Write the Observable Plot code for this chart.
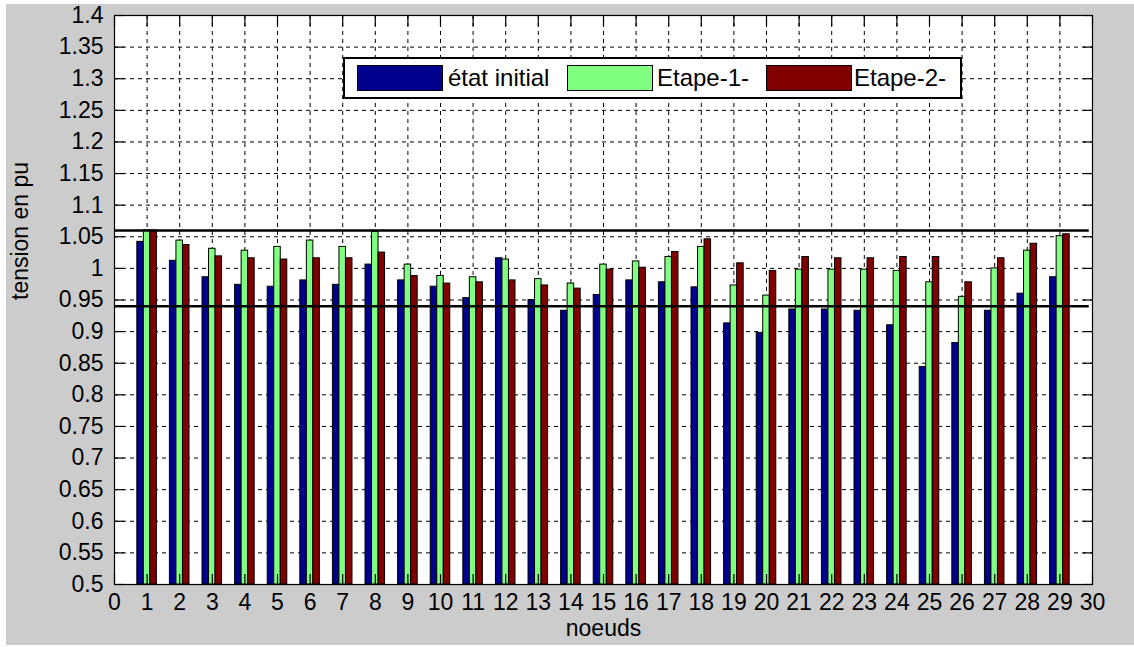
<!DOCTYPE html>
<html>
<head>
<meta charset="utf-8">
<script src="https://cdn.jsdelivr.net/npm/d3@7"></script>
<script src="https://cdn.jsdelivr.net/npm/@observablehq/plot@0.6"></script>
<style>
  html, body { margin: 0; padding: 0; background: #ffffff; }
  #wrap { position: absolute; left: 6px; top: 4px; width: 1128px; height: 641px; background: #cccccc; font-family: "Liberation Sans", Arial, sans-serif; }
  #legend { position: absolute; left: 337px; top: 53px; width: 615px; height: 38px; background: #ffffff; border: 2px solid #000; box-sizing: content-box; }
  .sw { position: absolute; top: 6px; width: 84px; height: 24px; border: 1px solid #000; }
  .lt { position: absolute; top: 5px; font-size: 24px; line-height: 28px; color: #000; white-space: nowrap; }
</style>
</head>
<body>
<div id="wrap"></div>
<script>
// ---- data ----
const nodes = [1,2,3,4,5,6,7,8,9,10,11,12,13,14,15,16,17,18,19,20,21,22,23,24,25,26,27,28,29];
const etatInitial = [1.042,1.012,0.986,0.974,0.971,0.981,0.974,1.006,0.981,0.971,0.953,1.016,0.950,0.933,0.958,0.981,0.978,0.970,0.913,0.898,0.935,0.935,0.933,0.910,0.844,0.882,0.933,0.960,0.986];
const etape1 = [1.060,1.044,1.031,1.028,1.034,1.044,1.034,1.058,1.006,0.988,0.986,1.014,0.983,0.976,1.006,1.011,1.018,1.034,0.973,0.957,0.998,0.998,0.998,0.996,0.978,0.955,1.000,1.028,1.051];
const etape2 = [1.060,1.037,1.019,1.016,1.014,1.016,1.016,1.025,0.988,0.976,0.978,0.981,0.973,0.968,0.998,1.001,1.026,1.046,1.008,0.996,1.018,1.016,1.016,1.018,1.018,0.978,1.016,1.039,1.054];
const seriesNames = ["état initial", "Etape-1-", "Etape-2-"];
const seriesColors = ["#00008f", "#80ff80", "#800000"];
const limits = [1.06, 0.94];
const xTicks = [0,1,2,3,4,5,6,7,8,9,10,11,12,13,14,15,16,17,18,19,20,21,22,23,24,25,26,27,28,29,30];
const yTicks = [0.5,0.55,0.6,0.65,0.7,0.75,0.8,0.85,0.9,0.95,1,1.05,1.1,1.15,1.2,1.25,1.3,1.35,1.4];
const yTickLabels = ["0.5","0.55","0.6","0.65","0.7","0.75","0.8","0.85","0.9","0.95","1","1.05","1.1","1.15","1.2","1.25","1.3","1.35","1.4"];
const xLabel = "noeuds";
const yLabel = "tension en pu";

// ---- build table ----
const seriesValues = [etatInitial, etape1, etape2];
const offsets = [-0.2, 0, 0.2];
const halfW = 0.1;
const rows = [];
seriesValues.forEach((vals, s) => {
  vals.forEach((v, i) => rows.push({node: nodes[i], s, series: seriesNames[s], value: v, off: offsets[s]}));
});

const font = "Liberation Sans, Arial, sans-serif";
const fs = 23;

const chart = Plot.plot({
  width: 1128,
  height: 641,
  marginLeft: 108,
  marginTop: 11,
  marginRight: 42,
  marginBottom: 61,
  style: {background: "#cccccc", fontSize: fs + "px", fontFamily: font, color: "#000", overflow: "visible"},
  x: {domain: [0, 30]},
  y: {domain: [0.5, 1.4]},
  color: {domain: seriesNames, range: seriesColors},
  marks: [
    Plot.frame({fill: "white", stroke: null}),
    Plot.gridX(xTicks, {stroke: "black", strokeOpacity: 1, strokeDasharray: "4,4", strokeWidth: 1}),
    Plot.gridY(yTicks, {stroke: "black", strokeOpacity: 1, strokeDasharray: "4,4", strokeWidth: 1}),
    Plot.rectY(rows, {
      x1: d => d.node + d.off - halfW,
      x2: d => d.node + d.off + halfW,
      y1: 0.5,
      y2: "value",
      fill: "series",
      stroke: "black",
      strokeWidth: 1
    }),
    Plot.ruleY(limits, {x1: 0, x2: 29.9, stroke: "black", strokeWidth: 2.5}),
    Plot.frame({stroke: "black", strokeWidth: 1.2}),
    Plot.axisY(yTicks, {anchor: "left", tickSize: 0, tickPadding: 11, tickFormat: d => yTickLabels[yTicks.indexOf(d)], label: null, fontSize: fs, fontFamily: font}),
    Plot.axisY(yTicks, {anchor: "left", tickSize: -10, fill: "none", label: null, strokeWidth: 1.2}),
    Plot.axisY(yTicks, {anchor: "right", tickSize: -10, fill: "none", label: null, strokeWidth: 1.2}),
    Plot.axisX(xTicks, {anchor: "bottom", tickSize: 0, tickPadding: 9, tickFormat: d => String(d), label: null, fontSize: fs, fontFamily: font}),
    Plot.axisX(xTicks, {anchor: "bottom", tickSize: -10, fill: "none", label: null, strokeWidth: 1.2}),
    Plot.axisX(xTicks, {anchor: "top", tickSize: -10, fill: "none", label: null, strokeWidth: 1.2}),
    Plot.text([xLabel], {frameAnchor: "bottom", dy: 51, fontSize: fs, fontFamily: font, fill: "black"}),
    Plot.text([yLabel], {frameAnchor: "left", dx: -94, rotate: -90, fontSize: fs, fontFamily: font, fill: "black"})
  ]
});

const wrap = document.getElementById("wrap");
wrap.appendChild(chart);

// legend (inside the axes, like the original)
const legend = document.createElement("div");
legend.id = "legend";
const swLeft = [12, 222, 421];
const txtLeft = [103, 312, 509];
seriesNames.forEach((name, i) => {
  const sw = document.createElement("div");
  sw.className = "sw";
  sw.style.left = swLeft[i] + "px";
  sw.style.background = seriesColors[i];
  legend.appendChild(sw);
  const t = document.createElement("div");
  t.className = "lt";
  t.style.left = txtLeft[i] + "px";
  t.textContent = name;
  legend.appendChild(t);
});
wrap.appendChild(legend);
</script>
</body>
</html>
